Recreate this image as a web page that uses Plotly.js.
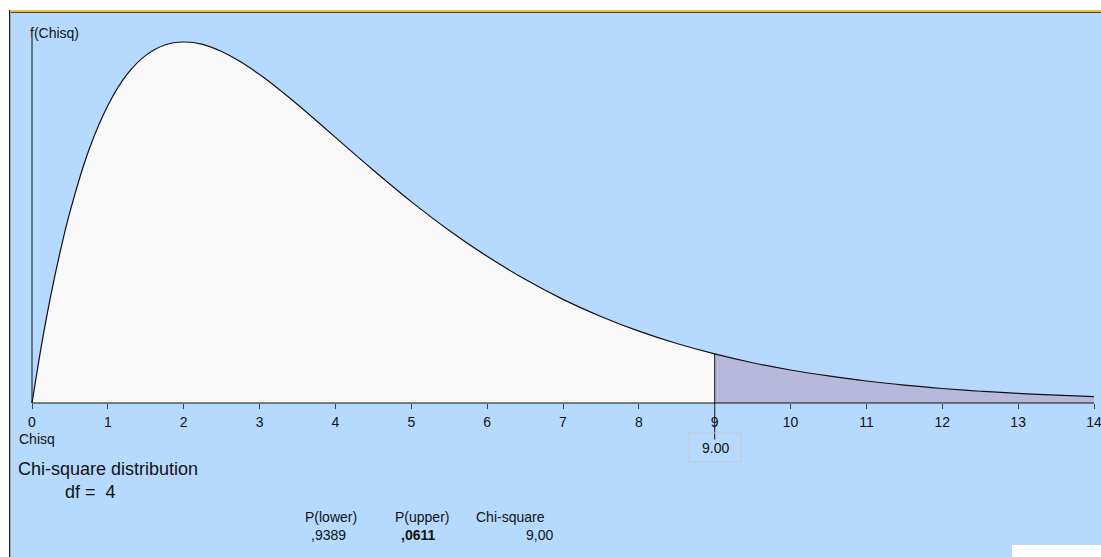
<!DOCTYPE html>
<html>
<head>
<meta charset="utf-8">
<script src="https://cdn.plot.ly/plotly-3.0.1.min.js"></script>
<style>html,body{margin:0;padding:0;background:#fff;}#chart{width:1101px;height:557px;}</style>
</head>
<body>
<div id="chart"></div>
<script>
// Chi-square density (df = 4)
const chiX = [0, 0.125, 0.25, 0.375, 0.5, 0.75, 1, 1.25, 1.5, 1.75, 2, 2.25, 2.5, 2.75, 3, 3.25, 3.5, 3.75, 4, 4.5, 5, 5.5, 6, 6.5, 7, 7.5, 8, 8.5, 9, 9.5, 10, 10.5, 11, 11.5, 12, 12.5, 13, 13.5, 14];
const density = [0, 0.0294, 0.0552, 0.0777, 0.0974, 0.1289, 0.1516, 0.1673, 0.1771, 0.1824, 0.1839, 0.1827, 0.1791, 0.1738, 0.1673, 0.1600, 0.1521, 0.1438, 0.1353, 0.1186, 0.1026, 0.0879, 0.0747, 0.0630, 0.0528, 0.0441, 0.0366, 0.0303, 0.0250, 0.0205, 0.0168, 0.0138, 0.0112, 0.0091, 0.0074, 0.0060, 0.0049, 0.0040, 0.0032];
const tickVals = [0,1,2,3,4,5,6,7,8,9,10,11,12,13,14];
const tickText = ["0","1","2","3","4","5","6","7","8","9","10","11","12","13","14"];
const critical = 9;
const criticalLabel = "9.00";
const df = 4;
const pLower = ",9389";
const pUpper = ",0611";
const chiSquareText = "9,00";

const W = 1101, H = 557;
const px = v => v / W;
const py = v => 1 - v / H;

const lowX = [], lowY = [], upX = [], upY = [];
chiX.forEach((x, i) => {
  if (x <= critical) { lowX.push(x); lowY.push(density[i]); }
  if (x >= critical) { upX.push(x); upY.push(density[i]); }
});
const critY = density[chiX.indexOf(critical)];

const font = "Liberation Sans, Arial, sans-serif";
const traces = [
  {x: lowX, y: lowY, type: 'scatter', mode: 'lines', fill: 'tozeroy', fillcolor: '#F8F8F8', line: {color: 'rgba(0,0,0,0)', width: 0, shape: 'spline', smoothing: 1}, hoverinfo: 'skip'},
  {x: upX, y: upY, type: 'scatter', mode: 'lines', fill: 'tozeroy', fillcolor: '#B8B8DD', line: {color: 'rgba(0,0,0,0)', width: 0, shape: 'spline', smoothing: 1}, hoverinfo: 'skip'},
  {x: chiX, y: density, type: 'scatter', mode: 'lines', line: {color: '#111', width: 1.2, shape: 'spline', smoothing: 1}, hoverinfo: 'skip'},
  {x: [chiX[0], chiX[chiX.length-1]], y: [0, 0], type: 'scatter', mode: 'lines', line: {color: '#111', width: 1}, hoverinfo: 'skip'},
  {x: [critical, critical], y: [critY, -0.0186], type: 'scatter', mode: 'lines', line: {color: '#111', width: 1}, hoverinfo: 'skip'},
  {x: [0, 0], y: [0, 0.1859], type: 'scatter', mode: 'lines', line: {color: '#111', width: 1}, hoverinfo: 'skip'}
];

const layout = {
  width: W, height: H,
  margin: {l: 0, r: 0, t: 0, b: 0},
  paper_bgcolor: '#B6DAFF',
  plot_bgcolor: 'rgba(0,0,0,0)',
  showlegend: false,
  font: {family: font, size: 14, color: '#111'},
  xaxis: {
    range: [-0.4218, 14.0923], anchor: 'free', position: py(403),
    tickvals: tickVals, ticktext: tickText, ticks: 'outside', ticklen: 5, tickcolor: '#444', tickwidth: 1,
    ticklabeloverflow: 'allow', ticklabelstandoff: 1,
    showgrid: false, zeroline: false, showline: false,
    tickfont: {family: font, size: 14, color: '#111'}, fixedrange: true
  },
  yaxis: {
    range: [-0.07845, 0.2053], visible: false, showgrid: false, zeroline: false, fixedrange: true
  },
  shapes: [
    {type: 'rect', xref: 'paper', yref: 'paper', x0: 0, x1: 1, y0: py(10), y1: 1, fillcolor: '#fff', line: {width: 0}},
    {type: 'rect', xref: 'paper', yref: 'paper', x0: 0, x1: px(9), y0: 0, y1: 1, fillcolor: '#fff', line: {width: 0}},
    {type: 'rect', xref: 'paper', yref: 'paper', x0: px(9), x1: 1, y0: py(12), y1: py(10), fillcolor: '#E8C040', line: {width: 0}},
    {type: 'rect', xref: 'paper', yref: 'paper', x0: px(9), x1: 1, y0: py(13), y1: py(12), fillcolor: '#4a4030', line: {width: 0}},
    {type: 'rect', xref: 'paper', yref: 'paper', x0: px(9), x1: px(10), y0: 0, y1: py(10), fillcolor: '#222', line: {width: 0}},
    {type: 'rect', xref: 'paper', yref: 'paper', x0: px(10), x1: px(11), y0: 0, y1: py(12), fillcolor: '#9aa8b8', line: {width: 0}},
    {type: 'rect', xref: 'paper', yref: 'paper', x0: px(1012), x1: 1, y0: 0, y1: py(545), fillcolor: '#fff', line: {width: 0}},
    {type: 'rect', xref: 'paper', yref: 'paper', x0: px(689), x1: px(741), y0: py(462), y1: py(433), fillcolor: 'rgba(0,0,0,0)', line: {color: '#C8C8C8', width: 1}}
  ],
  annotations: [
    {text: 'f(Chisq)', xref: 'paper', yref: 'paper', x: px(28), y: py(33), xanchor: 'left', yanchor: 'middle', showarrow: false, font: {size: 14}},
    {text: 'Chisq', xref: 'paper', yref: 'paper', x: px(17), y: py(439), xanchor: 'left', yanchor: 'middle', showarrow: false, font: {size: 14}},
    {text: criticalLabel, xref: 'paper', yref: 'paper', x: px(715), y: py(448), xanchor: 'center', yanchor: 'middle', showarrow: false, font: {size: 14}},
    {text: 'Chi-square distribution', xref: 'paper', yref: 'paper', x: px(16), y: py(469), xanchor: 'left', yanchor: 'middle', showarrow: false, font: {size: 18}},
    {text: 'df =  ' + df, xref: 'paper', yref: 'paper', x: px(63), y: py(492), xanchor: 'left', yanchor: 'middle', showarrow: false, font: {size: 18}},
    {text: 'P(lower)', xref: 'paper', yref: 'paper', x: px(303), y: py(517), xanchor: 'left', yanchor: 'middle', showarrow: false, font: {size: 14}},
    {text: pLower, xref: 'paper', yref: 'paper', x: px(309), y: py(535), xanchor: 'left', yanchor: 'middle', showarrow: false, font: {size: 14}},
    {text: 'P(upper)', xref: 'paper', yref: 'paper', x: px(393), y: py(517), xanchor: 'left', yanchor: 'middle', showarrow: false, font: {size: 14}},
    {text: '<b>' + pUpper + '</b>', xref: 'paper', yref: 'paper', x: px(399), y: py(535), xanchor: 'left', yanchor: 'middle', showarrow: false, font: {size: 14}},
    {text: 'Chi-square', xref: 'paper', yref: 'paper', x: px(474), y: py(517), xanchor: 'left', yanchor: 'middle', showarrow: false, font: {size: 14}},
    {text: chiSquareText, xref: 'paper', yref: 'paper', x: px(555), y: py(535), xanchor: 'right', yanchor: 'middle', showarrow: false, font: {size: 14}}
  ]
};

Plotly.newPlot('chart', traces, layout, {displayModeBar: false, staticPlot: true});
</script>
</body>
</html>
